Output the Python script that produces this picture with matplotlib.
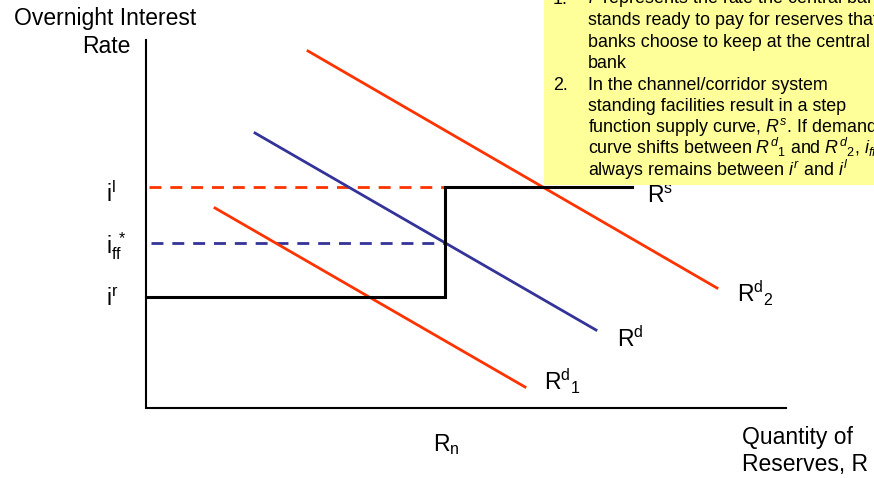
import matplotlib.pyplot as plt
from matplotlib.patches import Rectangle

plt.rcParams['font.family'] = ['Liberation Sans', 'DejaVu Sans']
plt.rcParams['mathtext.fontset'] = 'custom'
plt.rcParams['mathtext.rm'] = 'Liberation Sans'
plt.rcParams['mathtext.it'] = 'Liberation Sans:italic'
plt.rcParams['mathtext.bf'] = 'Liberation Sans:bold'

RED = '#ff3300'
BLUE = '#333399'

# diagram coordinates (pixel-like units, y grows downward)
axis_x = [146, 146, 786]
axis_y = [40, 408, 408]

i_l = 187      # lending rate
i_ff = 243     # equilibrium rate
i_r = 297      # deposit rate
R_n = 445

supply_x = [146, R_n, R_n, 632]
supply_y = [i_r, i_r, i_l, i_l]

rd_x = [255, 596]
rd_y = [133, 330]
rd1_x = [215, 525]
rd1_y = [208, 387]
rd2_x = [308, 717]
rd2_y = [51, 288]

box_lines = [
    ("1.", r"$i^r$ represents the rate the central bank"),
    ("", "stands ready to pay for reserves that"),
    ("", "banks choose to keep at the central"),
    ("", "bank"),
    ("2.", "In the channel/corridor system"),
    ("", "standing facilities result in a step"),
    ("", r"function supply curve, $R^s$. If demand"),
    ("", r"curve shifts between $R^d{}_1$ and $R^d{}_2$, $i_{ff}$"),
    ("", r"always remains between $i^r$ and $i^l$"),
]

fig = plt.figure(figsize=(8.74, 4.78), dpi=100)
ax = fig.add_axes([0, 0, 1, 1])
ax.set_xlim(0, 874)
ax.set_ylim(478, 0)
ax.axis('off')

ax.plot(axis_x, axis_y, color='black', lw=1.5, solid_joinstyle='miter')

ax.plot([149, R_n], [i_l, i_l], color=RED, lw=2, linestyle=(0, (4.3, 3.2)))
ax.plot([151, R_n], [i_ff, i_ff], color=BLUE, lw=2, linestyle=(0, (4.3, 3.2)))

ax.plot(rd1_x, rd1_y, color=RED, lw=2)
ax.plot(rd2_x, rd2_y, color=RED, lw=2)
ax.plot(rd_x, rd_y, color=BLUE, lw=2)
ax.plot(supply_x, supply_y, color='black', lw=2.2, solid_joinstyle='miter')

fs = 16.5
ax.text(14, 25, "Overnight Interest", fontsize=fs, va='baseline')
ax.text(130, 53, "Rate", fontsize=fs, va='baseline', ha='right')
ax.text(106, 202, r"$\mathrm{i}^{\mathrm{l}}$", fontsize=fs, va='baseline')
ax.text(106, 253, r"$\mathrm{i}_{\mathrm{ff}}^{\ *}$", fontsize=fs, va='baseline')
ax.text(106, 306, r"$\mathrm{i}^{\mathrm{r}}$", fontsize=fs, va='baseline')
ax.text(647, 203, r"$\mathrm{R}^{\mathrm{s}}$", fontsize=fs, va='baseline')
ax.text(737, 302, r"$\mathrm{R}^{\mathrm{d}}{}_{2}$", fontsize=fs, va='baseline')
ax.text(617, 347, r"$\mathrm{R}^{\mathrm{d}}$", fontsize=fs, va='baseline')
ax.text(544, 390, r"$\mathrm{R}^{\mathrm{d}}{}_{1}$", fontsize=fs, va='baseline')
ax.text(433, 451, r"$\mathrm{R}_{\mathrm{n}}$", fontsize=fs, va='baseline')
ax.text(742, 444, "Quantity of", fontsize=fs, va='baseline')
ax.text(742, 471, "Reserves, R", fontsize=fs, va='baseline')

ax.add_patch(Rectangle((544, -5), 340, 190, facecolor='#ffff99', edgecolor='none', zorder=5))
for k, (num, line) in enumerate(box_lines):
    yb = 3.5 + 21.5 * k
    if num:
        ax.text(553, yb, num, fontsize=12.9, va='baseline', zorder=6)
    ax.text(588, yb, line, fontsize=12.9, va='baseline', zorder=6, clip_on=True)

fig.savefig('out.png', dpi=100)
